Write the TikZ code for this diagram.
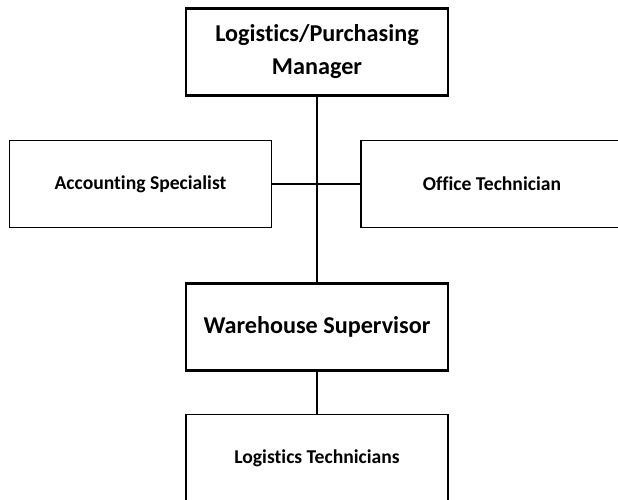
\documentclass[tikz,border=0pt]{standalone}
\usepackage{fontspec}
\setmainfont{Carlito}[Ligatures=NoCommon]
\begin{document}
\begin{tikzpicture}[x=1pt,y=-1pt,
  bigbox/.style={draw=black,line width=2.6pt,inner sep=0pt,align=center,
    minimum width=262pt,minimum height=87pt,
    font=\bfseries\fontsize{24.2}{33}\selectfont},
  smallbox/.style={draw=black,line width=1.6pt,inner sep=0pt,align=center,
    minimum width=262pt,minimum height=87pt,
    font=\bfseries\fontsize{19.6}{22}\selectfont},
  link/.style={draw=black,line width=2.3pt}]
\useasboundingbox (0,0) rectangle (618,500);
\clip (0,0) rectangle (618,500);
\node[bigbox] (mgr) at (317,52) {Logistics/Purchasing\\Manager};
\node[smallbox] (acc) at (140.5,184) {Accounting Specialist};
\node[smallbox] (off) at (492,184) {Office Technician};
\node[bigbox] (wh) at (317,327) {Warehouse Supervisor};
\node[smallbox] (lt) at (317,458) {Logistics Technicians};
\draw[link] (mgr.south) -- (wh.north);
\draw[link] (acc.east) -- (off.west);
\draw[link] (wh.south) -- (lt.north);
\end{tikzpicture}
\end{document}
